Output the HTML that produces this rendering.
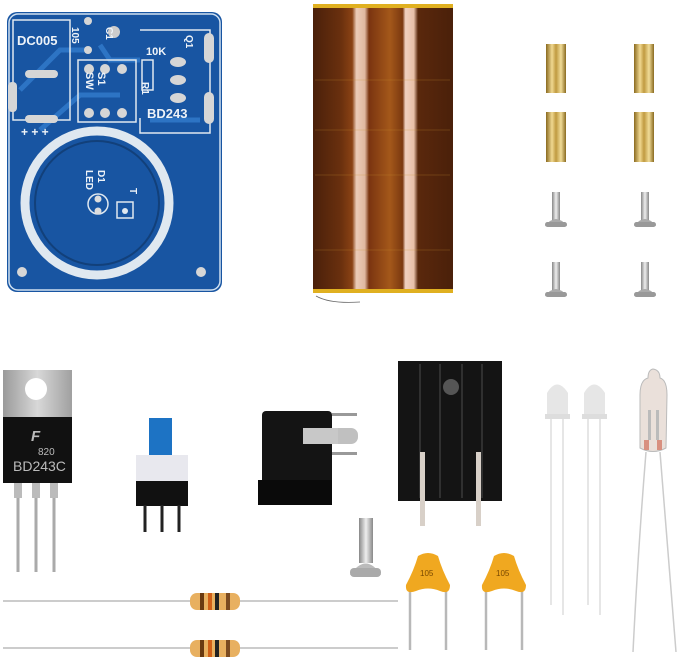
<!DOCTYPE html>
<html><head><meta charset="utf-8"><style>
html,body{margin:0;padding:0;background:#fff;width:679px;height:661px;overflow:hidden}
svg{display:block}
text{font-family:"Liberation Sans",sans-serif}
</style></head><body>
<svg width="679" height="661" viewBox="0 0 679 661" xmlns="http://www.w3.org/2000/svg">
<defs>
<linearGradient id="coil" x1="0" x2="1">
<stop offset="0" stop-color="#4a200a"/><stop offset="0.2" stop-color="#6a300e"/>
<stop offset="0.28" stop-color="#8a4214"/><stop offset="0.31" stop-color="#ecccb8"/><stop offset="0.37" stop-color="#e0b8a0"/><stop offset="0.4" stop-color="#7a3410"/>
<stop offset="0.55" stop-color="#a4581a"/><stop offset="0.64" stop-color="#7a3810"/><stop offset="0.66" stop-color="#f0d0c0"/><stop offset="0.72" stop-color="#e8c0a8"/>
<stop offset="0.75" stop-color="#5a280c"/><stop offset="1" stop-color="#4a200a"/>
</linearGradient>
<linearGradient id="brass" x1="0" x2="1">
<stop offset="0" stop-color="#8a6a20"/><stop offset="0.3" stop-color="#f0d890"/>
<stop offset="0.5" stop-color="#c09a40"/><stop offset="0.75" stop-color="#f0dc98"/><stop offset="1" stop-color="#8a6a20"/>
</linearGradient>
<linearGradient id="metal" x1="0" x2="1">
<stop offset="0" stop-color="#888"/><stop offset="0.5" stop-color="#eee"/><stop offset="1" stop-color="#888"/>
</linearGradient>
<linearGradient id="tab" x1="0" x2="1">
<stop offset="0" stop-color="#9a9a9a"/><stop offset="0.5" stop-color="#d8d8d8"/><stop offset="1" stop-color="#a0a0a0"/>
</linearGradient>
</defs>

<!-- PCB -->
<rect x="7" y="12" width="215" height="280" rx="10" fill="#1855a2"/>
<rect x="9" y="14" width="211" height="276" rx="9" fill="none" stroke="#cfe0f0" stroke-width="1.5"/>
<g stroke="#2d74c4" stroke-width="5" fill="none">
<path d="M20 90 L60 50 L90 50"/><path d="M40 130 L80 95 L120 95"/><path d="M100 45 L110 60 L140 60"/>
<path d="M150 120 L200 120"/>
</g>
<g fill="none" stroke="#dfe8f0" stroke-width="1.5">
<rect x="13" y="20" width="57" height="100"/>
<rect x="78" y="60" width="58" height="62"/>
<polyline points="140,30 210,30 210,133 140,133 140,118"/>
<rect x="142" y="60" width="11" height="30"/>
</g>
<circle cx="97" cy="203" r="72" fill="none" stroke="#dfe8f0" stroke-width="9"/>
<circle cx="97" cy="203" r="62" fill="none" stroke="#12407a" stroke-width="2"/>
<rect x="117" y="202" width="16" height="16" fill="none" stroke="#dfe8f0" stroke-width="1.5"/>
<circle cx="125" cy="211" r="3" fill="#dfe8f0"/>
<circle cx="98" cy="204" r="10" fill="none" stroke="#dfe8f0" stroke-width="1.5"/>
<circle cx="98" cy="199" r="3.5" fill="#ddd"/><circle cx="98" cy="211" r="3.5" fill="#ddd"/>
<g fill="#d6d6d6">
<rect x="25" y="70" width="33" height="8" rx="4"/><rect x="25" y="115" width="33" height="8" rx="4"/>
<rect x="8" y="82" width="9" height="30" rx="4"/>
<rect x="204" y="33" width="10" height="30" rx="5"/><rect x="204" y="92" width="10" height="32" rx="5"/>
<circle cx="89" cy="69" r="5"/><circle cx="105" cy="69" r="5"/><circle cx="122" cy="69" r="5"/>
<circle cx="89" cy="113" r="5"/><circle cx="105" cy="113" r="5"/><circle cx="122" cy="113" r="5"/>
<ellipse cx="178" cy="62" rx="8" ry="5"/><ellipse cx="178" cy="80" rx="8" ry="5"/><ellipse cx="178" cy="98" rx="8" ry="5"/>
<circle cx="88" cy="21" r="4"/><circle cx="88" cy="50" r="4"/>
<circle cx="114" cy="32" r="6" fill="#ccc"/>
<circle cx="22" cy="272" r="5"/><circle cx="201" cy="272" r="5"/>
</g>
<g fill="#eef3f8" font-weight="bold">
<text x="17" y="45" font-size="13">DC005</text>
<text x="146" y="55" font-size="11">10K</text>
<text x="147" y="118" font-size="13">BD243</text>
<text x="21" y="136" font-size="12">+ + +</text>
<text x="0" y="0" font-size="11" transform="translate(98,72) rotate(90)">S1</text>
<text x="0" y="0" font-size="11" transform="translate(86,72) rotate(90)">SW</text>
<text x="0" y="0" font-size="10" transform="translate(142,82) rotate(90)">R1</text>
<text x="0" y="0" font-size="10" transform="translate(186,35) rotate(90)">Q1</text>
<text x="0" y="0" font-size="10" transform="translate(106,27) rotate(90)">C1</text>
<text x="0" y="0" font-size="10" transform="translate(72,27) rotate(90)">105</text>
<text x="0" y="0" font-size="10" transform="translate(98,170) rotate(90)">D1</text>
<text x="0" y="0" font-size="10" transform="translate(86,170) rotate(90)">LED</text>
<text x="0" y="0" font-size="10" transform="translate(130,188) rotate(90)">T</text>
</g>

<!-- Coil -->
<rect x="313" y="5" width="140" height="288" fill="url(#coil)"/>
<rect x="313" y="4" width="140" height="4" fill="#e0b020"/>
<rect x="313" y="289" width="140" height="4" fill="#e0b020"/>
<g stroke="#c89030" stroke-width="0.6" opacity="0.5">
<line x1="315" y1="80" x2="450" y2="80"/><line x1="315" y1="130" x2="450" y2="130"/>
<line x1="315" y1="175" x2="450" y2="175"/><line x1="315" y1="250" x2="450" y2="250"/>
</g>
<path d="M316 296 Q330 304 360 302" stroke="#666" fill="none" stroke-width="0.8"/>

<!-- Standoffs -->
<g fill="url(#brass)">
<rect x="546" y="44" width="20" height="49"/><rect x="634" y="44" width="20" height="49"/>
<rect x="546" y="112" width="20" height="50"/><rect x="634" y="112" width="20" height="50"/>
</g>
<!-- small screws -->
<g>
<g transform="translate(556,192)"><rect x="-4" y="0" width="8" height="30" fill="url(#metal)"/><path d="M-11 34 Q0 20 11 34 Z" fill="#aaa"/><rect x="-11" y="30" width="22" height="5" rx="2.5" fill="#999"/></g>
<g transform="translate(645,192)"><rect x="-4" y="0" width="8" height="30" fill="url(#metal)"/><path d="M-11 34 Q0 20 11 34 Z" fill="#aaa"/><rect x="-11" y="30" width="22" height="5" rx="2.5" fill="#999"/></g>
<g transform="translate(556,262)"><rect x="-4" y="0" width="8" height="30" fill="url(#metal)"/><path d="M-11 34 Q0 20 11 34 Z" fill="#aaa"/><rect x="-11" y="30" width="22" height="5" rx="2.5" fill="#999"/></g>
<g transform="translate(645,262)"><rect x="-4" y="0" width="8" height="30" fill="url(#metal)"/><path d="M-11 34 Q0 20 11 34 Z" fill="#aaa"/><rect x="-11" y="30" width="22" height="5" rx="2.5" fill="#999"/></g>
</g>

<!-- Transistor -->
<g stroke="#aaa" stroke-width="3"><line x1="18" y1="482" x2="18" y2="572"/><line x1="36" y1="482" x2="36" y2="572"/><line x1="54" y1="482" x2="54" y2="572"/></g>
<g fill="#bbb"><rect x="14" y="482" width="8" height="16"/><rect x="32" y="482" width="8" height="16"/><rect x="50" y="482" width="8" height="16"/></g>
<rect x="3" y="370" width="69" height="48" fill="url(#tab)"/>
<circle cx="36" cy="389" r="11" fill="#fff"/>
<rect x="3" y="417" width="69" height="66" fill="#111"/>
<text x="31" y="441" font-size="15" fill="#bbb" font-style="italic" font-weight="bold">F</text>
<text x="38" y="455" font-size="10" fill="#bbb">820</text>
<text x="13" y="471" font-size="14" fill="#bbb">BD243C</text>

<!-- Push switch -->
<rect x="149" y="418" width="23" height="42" fill="#1d73c4"/>
<rect x="136" y="455" width="52" height="26" fill="#e8e8ee"/>
<rect x="136" y="481" width="52" height="25" fill="#111"/>
<g stroke="#222" stroke-width="3"><line x1="145" y1="505" x2="145" y2="532"/><line x1="162" y1="505" x2="162" y2="532"/><line x1="179" y1="505" x2="179" y2="532"/></g>

<!-- DC jack -->
<rect x="332" y="413" width="25" height="3" fill="#999"/>
<rect x="332" y="452" width="25" height="3" fill="#999"/>
<rect x="303" y="428" width="55" height="16" rx="7" fill="#c0c0c0"/>
<rect x="262" y="411" width="70" height="94" rx="4" fill="#141414"/>
<rect x="258" y="480" width="74" height="25" fill="#0a0a0a"/>
<rect x="303" y="428" width="35" height="16" fill="#c8c8c8"/>

<!-- Heatsink -->
<rect x="398" y="361" width="104" height="140" fill="#141414"/>
<g stroke="#3a3a3a" stroke-width="1.5"><line x1="420" y1="364" x2="420" y2="498"/><line x1="440" y1="364" x2="440" y2="498"/><line x1="462" y1="364" x2="462" y2="498"/><line x1="482" y1="364" x2="482" y2="498"/></g>
<circle cx="451" cy="387" r="8" fill="#555"/>
<rect x="420" y="452" width="5" height="74" fill="#d8d0c8"/>
<rect x="476" y="452" width="5" height="74" fill="#d8d0c8"/>

<!-- Screw -->
<rect x="359" y="518" width="14" height="45" fill="url(#metal)"/>
<path d="M350 575 Q366 552 381 575 Z" fill="#bbb"/>
<rect x="350" y="568" width="31" height="9" rx="4" fill="#aaa"/>

<!-- Resistors -->
<line x1="3" y1="601" x2="398" y2="601" stroke="#ccc" stroke-width="2"/>
<line x1="3" y1="648" x2="398" y2="648" stroke="#ccc" stroke-width="2"/>
<g>
<rect x="190" y="593" width="50" height="17" rx="7" fill="#e8b060"/>
<rect x="200" y="593" width="4" height="17" fill="#6a3a10"/><rect x="208" y="593" width="4" height="17" fill="#d06018"/><rect x="215" y="593" width="4" height="17" fill="#222"/><rect x="226" y="593" width="4" height="17" fill="#7a4a20"/>
<rect x="190" y="640" width="50" height="17" rx="7" fill="#e8b060"/>
<rect x="200" y="640" width="4" height="17" fill="#6a3a10"/><rect x="208" y="640" width="4" height="17" fill="#d06018"/><rect x="215" y="640" width="4" height="17" fill="#222"/><rect x="226" y="640" width="4" height="17" fill="#7a4a20"/>
</g>

<!-- Capacitors -->
<g stroke="#b8b8b8" stroke-width="2.5"><line x1="410" y1="590" x2="410" y2="650"/><line x1="446" y1="590" x2="446" y2="650"/><line x1="486" y1="590" x2="486" y2="650"/><line x1="522" y1="590" x2="522" y2="650"/></g>
<path d="M418 556 Q428 550 438 556 Q442 570 450 585 Q450 595 440 591 Q428 586 416 591 Q405 595 406 585 Q414 570 418 556 Z" fill="#f0a820"/>
<path d="M494 556 Q504 550 514 556 Q518 570 526 585 Q526 595 516 591 Q504 586 492 591 Q481 595 482 585 Q490 570 494 556 Z" fill="#f0a820"/>
<text x="420" y="576" font-size="8" fill="#7a4a00">105</text>
<text x="496" y="576" font-size="8" fill="#7a4a00">105</text>

<!-- LEDs -->
<g stroke="#ddd" stroke-width="1.5"><line x1="551" y1="418" x2="551" y2="605"/><line x1="563" y1="418" x2="563" y2="615"/><line x1="588" y1="418" x2="588" y2="605"/><line x1="600" y1="418" x2="600" y2="615"/></g>
<path d="M547 418 L547 393 Q557 376 568 393 L568 418 Z" fill="#e6e6e6"/>
<rect x="545" y="414" width="25" height="5" fill="#ddd"/>
<path d="M584 418 L584 393 Q594 376 605 393 L605 418 Z" fill="#e6e6e6"/>
<rect x="582" y="414" width="25" height="5" fill="#ddd"/>

<!-- Neon bulb -->
<path d="M646 452 Q638 550 633 652" stroke="#ccc" stroke-width="1.5" fill="none"/>
<path d="M660 452 Q668 550 676 652" stroke="#ccc" stroke-width="1.5" fill="none"/>
<path d="M640 395 Q640 380 648 378 Q648 370 653 369 Q660 370 660 378 Q667 380 667 395 L666 448 Q653 455 640 448 Z" fill="#eae0da" stroke="#bbb"/>
<rect x="648" y="410" width="3" height="30" fill="#bbb"/><rect x="656" y="410" width="3" height="30" fill="#bbb"/>
<rect x="644" y="440" width="5" height="10" fill="#d89080"/><rect x="657" y="440" width="5" height="10" fill="#d89080"/>
</svg>
</body></html>
